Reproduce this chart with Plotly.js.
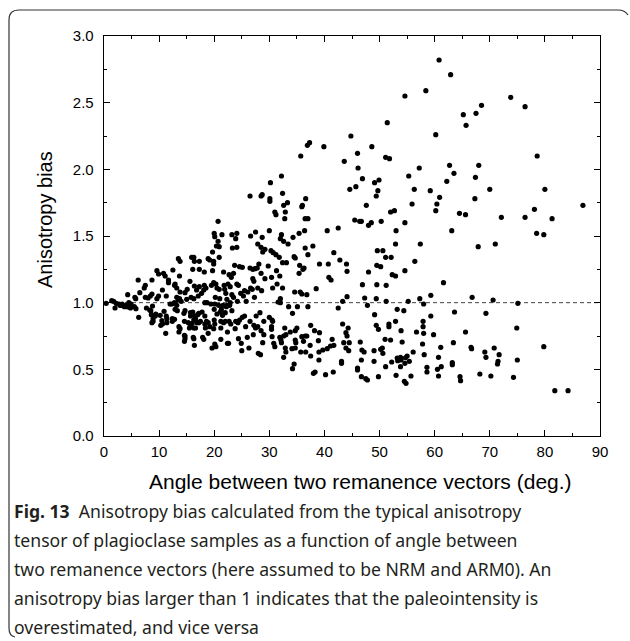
<!DOCTYPE html>
<html>
<head>
<meta charset="utf-8">
<script src="https://cdn.plot.ly/plotly-3.0.1.min.js"></script>
<style>html,body{margin:0;padding:0;background:#fff;}#chart{width:630px;height:641px;}</style>
</head>
<body>
<div id="chart"></div>
<script>
// Angle between two remanence vectors (deg.)
const angleDeg = [
20.7,20.0,21.4,
44.8,37.3,36.9,39.9,35.7,43.6,46.0,46.1,32.2,30.2,44.6,45.7,26.5,28.5,28.7,30.1,30.1,32.4,33.3,32.6,36.6,36.0,35.9,31.0,31.2,32.9,32.8,36.5,37.0,45.5,46.4,23.2,24.1,26.6,27.5,28.7,30.0,32.2,34.3,35.4,36.4,40.5,42.5,23.9,32.0,
60.8,62.9,54.6,58.4,68.5,65.2,67.5,65.7,51.4,60.2,48.6,51.1,51.8,57.2,62.7,68.0,63.5,46.9,55.3,67.4,49.1,49.9,49.7,49.4,56.3,62.2,59.2,60.9,67.3,70.0,47.6,55.9,60.4,52.0,52.7,60.2,64.5,65.6,46.7,48.0,48.5,50.3,54.6,53.0,63.1,
73.8,76.4,78.6,80.0,86.9,78.1,72.1,76.4,81.3,78.5,79.8,
71.0,70.6,75.1,69.3,74.9,79.8,70.8,69.1,69.3,71.7,71.5,71.4,75.0,70.2,74.3,81.8,84.2,
52.9,57.4,67.9,49.6,50.6,51.1,52.1,56.4,48.0,49.5,50.2,54.6,52.3,52.9,46.9,49.5,51.2,61.6,47.3,49.4,47.8,51.2,55.2,57.3,59.3,58.0,66.8,53.2,54.4,49.1,63.6,59.3,49.4,49.8,51.7,51.7,52.9,57.9,57.9,53.9,56.7,58.0,59.8,65.6,46.5,51.0,52.0,54.1,57.8,63.4,46.8,47.2,49.0,50.2,50.5,50.6,56.1,61.1,66.6,66.7,46.7,49.0,52.2,53.2,53.3,53.8,53.9,54.7,55.0,55.4,54.6,58.1,60.7,61.2,60.5,58.6,58.6,60.7,63.2,63.2,51.1,53.8,46.0,46.0,46.7,47.5,47.8,49.8,53.0,54.5,54.8,55.7,64.6,64.7,68.2,
23.3,24.1,32.6,33.4,27.9,28.5,29.2,28.8,30.3,30.7,31.2,31.8,36.5,37.9,34.5,34.7,37.0,41.7,32.4,33.1,35.5,36.3,36.1,39.1,40.7,42.8,44.0,44.1,23.7,24.6,25.1,26.5,27.0,27.4,27.8,28.1,29.8,31.3,22.7,23.5,23.1,28.5,27.0,27.2,29.2,30.4,31.9,35.4,40.8,41.2,22.5,24.1,24.4,22.9,27.9,26.6,26.9,31.4,32.4,30.6,38.5,25.5,26.1,24.8,25.3,28.6,23.2,23.5,27.3,34.6,35.6,35.9,36.8,44.1,43.3,22.3,22.9,22.3,22.8,23.2,24.2,25.8,31.6,32.0,32.0,33.5,35.1,37.0,42.5,34.2,22.7,23.0,23.9,24.3,24.6,25.1,25.5,23.8,25.7,26.5,27.2,27.6,27.5,27.9,28.3,29.0,30.0,30.5,30.6,28.5,29.0,30.4,30.4,27.1,26.0,24.4,24.9,22.6,25.0,26.3,28.8,30.8,31.0,30.5,31.9,32.1,32.6,33.0,32.2,32.8,33.8,34.7,35.0,34.7,34.8,34.7,32.9,33.0,32.6,28.0,28.4,35.9,36.2,36.5,36.8,35.7,36.6,34.1,37.5,38.2,39.1,37.4,37.5,38.9,39.0,39.7,40.5,41.1,41.7,41.4,39.0,34.5,34.2,38.0,38.3,40.2,41.6,43.3,44.3,43.9,44.1,43.5,44.5,43.9,44.4,43.1,43.1,
20.1,20.7,20.4,20.9,19.7,18.9,19.2,19.9,19.9,20.9,15.9,16.3,16.4,17.3,13.5,13.8,16.1,17.3,18.2,19.7,21.7,12.5,13.7,9.6,9.9,10.8,11.1,6.2,7.3,7.5,8.7,11.7,11.7,15.6,12.9,16.4,17.3,18.2,18.5,18.1,16.8,19.5,19.9,20.3,20.5,20.9,21.8,10.6,11.3,12.8,13.2,13.8,14.7,15.1,13.7,13.2,14.0,15.0,5.6,5.75,4.3,6.5,7.5,8.0,8.4,8.7,9.6,9.9,15.8,16.3,17.1,17.7,21.9,22.1,20.2,21.0,18.3,18.7,19.4,20.1,20.8,21.6,22.2,
0.4,1.4,1.75,2.0,2.2,2.7,2.9,3.1,3.3,3.7,4.0,4.2,4.4,4.5,4.7,4.9,4.8,5.5,5.8,6.3,7.7,8.3,8.5,8.8,8.6,8.9,9.3,9.4,8.7,8.9,10.2,10.9,10.5,10.6,10.3,11.2,11.3,11.4,11.4,12.0,12.3,12.8,13.2,13.5,12.9,13.3,12.8,13.6,13.8,13.6,14.6,14.6,14.7,14.6,14.5,14.7,15.7,15.7,16.1,16.5,16.6,16.3,16.0,15.7,15.3,15.5,16.3,16.6,17.2,17.5,17.0,17.2,16.9,17.8,18.3,18.6,18.9,18.3,18.4,20.0,20.5,21.1,21.3,21.5,22.0,21.2,22.0,21.7,20.0,20.1,19.2,19.9,21.2,22.4,14.7,16.2,16.3,17.9,18.1,16.4,19.6,20.3,20.1,21.2,22.4,18.9,12.4,12.4
];
// Anisotropy bias
const biasValues = [
1.61,1.52,1.51,
2.25,2.20,2.18,2.17,2.10,2.06,2.12,2.01,1.95,1.90,1.85,1.87,1.80,1.80,1.81,1.78,1.76,1.82,1.75,1.73,1.78,1.73,1.72,1.68,1.66,1.68,1.63,1.63,1.63,1.62,1.61,1.51,1.52,1.50,1.53,1.49,1.54,1.51,1.49,1.52,1.54,1.54,1.56,1.48,1.48,
2.82,2.71,2.55,2.59,2.48,2.41,2.42,2.33,2.35,2.26,2.17,2.09,2.08,2.01,2.03,2.03,1.97,1.93,1.95,1.94,1.90,1.92,1.84,1.80,1.85,1.91,1.84,1.79,1.78,1.85,1.73,1.74,1.74,1.68,1.69,1.69,1.67,1.66,1.61,1.58,1.60,1.61,1.60,1.54,1.54,
2.54,2.47,2.10,1.85,1.73,1.70,1.64,1.64,1.63,1.52,1.51,
1.44,1.02,0.995,0.92,0.81,0.67,0.66,0.63,0.59,0.61,0.56,0.54,0.57,0.45,0.44,0.34,0.34,
1.44,1.44,1.42,1.39,1.39,1.34,1.34,1.31,1.23,1.28,1.27,1.24,1.21,1.20,1.135,1.135,1.13,1.15,1.035,1.03,0.98,1.01,1.01,1.03,1.055,0.99,1.04,0.95,0.94,0.91,0.93,0.90,0.83,0.80,0.84,0.82,0.86,0.86,0.82,0.79,0.78,0.77,0.76,0.78,0.705,0.725,0.72,0.705,0.69,0.70,0.645,0.63,0.64,0.65,0.66,0.62,0.63,0.665,0.665,0.655,0.57,0.56,0.555,0.585,0.565,0.59,0.57,0.587,0.60,0.56,0.545,0.61,0.59,0.52,0.50,0.515,0.48,0.45,0.55,0.535,0.52,0.52,0.51,0.495,0.445,0.43,0.42,0.445,0.455,0.41,0.395,0.45,0.445,0.415,0.465,
1.41,1.415,1.46,1.44,1.44,1.415,1.40,1.38,1.39,1.375,1.36,1.34,1.41,1.425,1.345,1.335,1.36,1.375,1.30,1.30,1.28,1.26,1.25,1.29,1.29,1.32,1.29,1.235,1.28,1.27,1.265,1.26,1.25,1.255,1.26,1.29,1.275,1.24,1.21,1.22,1.19,1.22,1.18,1.16,1.18,1.19,1.20,1.22,1.19,1.17,1.14,1.14,1.13,1.12,1.11,1.11,1.10,1.14,1.11,1.11,1.105,1.09,1.08,1.07,1.05,1.09,1.06,1.04,1.04,1.08,1.08,1.065,1.06,1.045,1.01,1.025,1.00,0.98,0.98,0.94,1.01,1.01,1.005,1.00,1.03,0.97,0.97,0.97,0.96,0.92,0.86,0.84,0.86,0.85,0.87,0.89,0.90,0.805,0.82,0.86,0.83,0.90,0.81,0.82,0.925,0.86,0.89,0.87,0.86,0.79,0.76,0.82,0.80,0.76,0.74,0.73,0.695,0.695,0.64,0.66,0.70,0.695,0.67,0.745,0.74,0.72,0.75,0.76,0.70,0.81,0.78,0.79,0.81,0.72,0.70,0.66,0.66,0.63,0.59,0.62,0.61,0.745,0.71,0.75,0.75,0.63,0.63,0.655,0.83,0.79,0.775,0.68,0.60,0.715,0.63,0.645,0.655,0.675,0.68,0.725,0.57,0.54,0.505,0.47,0.48,0.46,0.48,0.84,0.81,0.775,0.75,0.70,0.70,0.66,0.64,0.56,0.545,
1.495,1.46,1.425,1.42,1.38,1.33,1.32,1.31,1.29,1.34,1.34,1.34,1.31,1.31,1.33,1.31,1.25,1.25,1.23,1.24,1.23,1.245,1.20,1.24,1.215,1.22,1.20,1.17,1.11,1.13,1.17,1.17,1.15,1.16,1.14,1.125,1.12,1.13,1.11,1.095,1.095,1.13,1.15,1.14,1.11,1.10,1.13,1.095,1.05,1.13,1.11,1.08,1.075,1.10,1.03,1.04,1.01,1.025,1.04,1.03,1.06,1.075,1.04,1.035,1.05,1.065,1.03,1.05,1.04,1.03,1.05,1.07,1.10,1.07,1.04,1.03,1.00,1.00,0.99,0.99,0.98,0.98,0.97,
0.995,1.015,1.01,0.96,0.995,0.99,0.98,0.98,0.99,0.97,0.98,0.97,0.97,1.00,0.97,0.99,0.96,0.97,0.955,0.89,0.96,0.945,0.94,0.975,0.91,0.88,0.90,0.915,0.85,0.86,0.905,0.935,0.865,0.84,0.83,0.77,0.90,0.88,0.85,0.99,0.99,1.00,0.98,1.02,0.95,0.94,0.875,0.82,0.805,0.78,0.86,0.755,0.73,0.71,0.92,0.94,0.925,0.90,0.93,0.90,0.88,0.87,0.845,0.83,0.85,0.81,0.81,0.81,0.85,0.86,0.91,0.92,0.85,0.93,0.90,0.86,0.85,0.84,0.81,0.95,0.915,0.93,0.95,0.905,0.925,0.86,0.86,0.85,0.87,0.84,0.82,0.805,0.81,0.78,0.75,0.74,0.73,0.74,0.725,0.68,0.66,0.67,0.69,0.725,0.695,0.77,0.88,0.86
];
const xTickVals = [0,10,20,30,40,50,60,70,80,90];
const yTickVals = [0,0.5,1.0,1.5,2.0,2.5,3.0];
const yTickText = ["0.0","0.5","1.0","1.5","2.0","2.5","3.0"];
const referenceBias = 1;
const xTitle = 'Angle between two remanence vectors (deg.)';
const yTitle = 'Anisotropy bias';
const captionLines = [
  "<b>Fig. 13</b>  Anisotropy bias calculated from the typical anisotropy",
  "tensor of plagioclase samples as a function of angle between",
  "two remanence vectors (here assumed to be NRM and ARM0). An",
  "anisotropy bias larger than 1 indicates that the paleointensity is",
  "overestimated, and vice versa"
];

// pixel -> paper helpers (plot area: x 104..600, y 36..436)
const PL = 104, PW = 496, PB = 436, PH = 400;
const px = X => (X - PL) / PW;
const py = Y => (PB - Y) / PH;

const titleFont = {family: 'Liberation Sans, Arial, sans-serif', size: 20, color: '#000'};
const axisFont = {family: 'Liberation Sans, Arial, sans-serif', size: 15, color: '#000'};

const captionY = [511, 540, 569, 598, 627];
const annotations = captionLines.map((t, i) => ({
  text: t, xref: 'paper', yref: 'paper', x: px(12), y: py(captionY[i]),
  xanchor: 'left', yanchor: 'middle', showarrow: false,
  font: {family: 'Noto Sans, Open Sans, sans-serif', size: 17.6, color: '#231f20'}
}));
annotations.push({
  text: xTitle, xref: 'paper', yref: 'paper', x: px(360), y: py(481),
  xanchor: 'center', yanchor: 'middle', showarrow: false,
  font: Object.assign({}, titleFont, {size: 21})
});
annotations.push({
  text: yTitle, xref: 'paper', yref: 'paper', x: px(45), y: py(220),
  xanchor: 'center', yanchor: 'middle', showarrow: false, textangle: -90,
  font: titleFont
});

const borderPath =
  `M ${px(15)},${py(637)} Q ${px(9)},${py(636)} ${px(9)},${py(628)} ` +
  `L ${px(9)},${py(20)} Q ${px(9)},${py(10)} ${px(19)},${py(10)} ` +
  `L ${px(618)},${py(10)} Q ${px(625)},${py(10)} ${px(628)},${py(15)}`;

const trace = {
  x: angleDeg, y: biasValues, type: 'scatter', mode: 'markers',
  marker: {color: '#000', size: 5.2},
  hoverinfo: 'skip'
};

const layout = {
  width: 630, height: 641,
  margin: {l: PL, r: 630 - PL - PW, t: 36, b: 641 - PB, pad: 0},
  paper_bgcolor: '#fff', plot_bgcolor: '#fff',
  showlegend: false,
  xaxis: {
    range: [0, 90], tickvals: xTickVals, ticks: 'inside', ticklen: 6, tickwidth: 1, tickcolor: '#000',
    showline: true, linecolor: '#000', linewidth: 1.3, mirror: 'ticks', showgrid: false, zeroline: false,
    minor: {tickvals: [5,15,25,35,45,55,65,75,85], ticks: 'inside', ticklen: 3, tickcolor: '#000', showgrid: false},
    tickfont: axisFont, ticklabelstandoff: 2,
    automargin: false
  },
  yaxis: {
    range: [0, 3], tickvals: yTickVals, ticktext: yTickText, ticks: 'inside', ticklen: 6, tickwidth: 1, tickcolor: '#000',
    showline: true, linecolor: '#000', linewidth: 1.3, mirror: 'ticks', showgrid: false, zeroline: false,
    minor: {tickvals: [0.25,0.75,1.25,1.75,2.25,2.75], ticks: 'inside', ticklen: 3, tickcolor: '#000', showgrid: false},
    tickfont: axisFont, ticklabelstandoff: 6,
    automargin: false
  },
  shapes: [
    {type: 'line', xref: 'x', yref: 'y', x0: 0, x1: 90, y0: referenceBias, y1: referenceBias,
     line: {color: '#444', width: 1, dash: '4px,3px'}, layer: 'below'},
    {type: 'path', xref: 'paper', yref: 'paper', path: borderPath,
     line: {color: '#333', width: 1.2}}
  ],
  annotations: annotations
};

Plotly.newPlot('chart', [trace], layout, {displayModeBar: false, staticPlot: true});
</script>
</body>
</html>
